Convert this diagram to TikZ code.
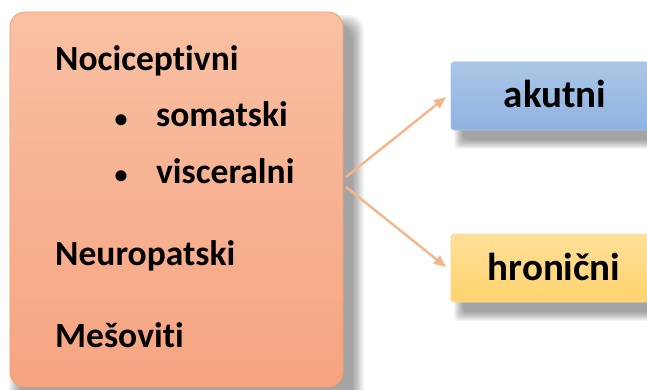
\documentclass[tikz,border=0pt]{standalone}
\usepackage{fontspec}
\setmainfont{Carlito}[Ligatures=NoCommon]
\usetikzlibrary{arrows.meta}
\definecolor{mainTop}{HTML}{F8C0A3}
\definecolor{mainBot}{HTML}{F6A481}
\definecolor{mainEdge}{HTML}{F4A070}
\definecolor{blueTop}{HTML}{ABC6E6}
\definecolor{blueBot}{HTML}{8EB3E2}
\definecolor{yelTop}{HTML}{FFDF99}
\definecolor{yelBot}{HTML}{FFD36E}
\definecolor{arrowCol}{HTML}{F5B58A}
\tikzset{
  lbl/.style={font=\bfseries\fontsize{35.5}{40}\selectfont, anchor=base west, inner sep=0pt},
  bul/.style={font=\bfseries\fontsize{26}{30}\selectfont, anchor=base, inner sep=0pt},
  boxlbl/.style={font=\bfseries\fontsize{39}{44}\selectfont, inner sep=0pt, anchor=base},
  conn/.style={draw=arrowCol, line width=2.4pt, -{Triangle[length=12pt,width=10pt]}},
}
\begin{document}
\begin{tikzpicture}[x=1pt,y=-1pt]
\useasboundingbox (0,0) rectangle (647,390);
\begin{scope}
\clip (0,0) rectangle (647,390);
% shadows
\foreach \i in {0,...,9}{
  \fill[black, opacity=0.045, rounded corners=15] (10+10-\i*1.2, 12+14-\i*1.2) rectangle (343+10+\i*1.2, 387+12+\i*1.2);
  \fill[black, opacity=0.045, rounded corners=4] (451+12-\i*1.0, 62+10-\i*1.0) rectangle (660+10+\i*1.0, 130+10+\i*1.0);
  \fill[black, opacity=0.045, rounded corners=4] (451+12-\i*1.0, 234+10-\i*1.0) rectangle (660+10+\i*1.0, 302+10+\i*1.0);
}
% main box
\shade[top color=mainTop, bottom color=mainBot, rounded corners=15] (10,12) rectangle (343,387);
\draw[mainEdge, line width=0.8pt, rounded corners=15] (10,12) rectangle (343,387);
\node (main) [minimum width=333pt, minimum height=375pt, inner sep=0pt] at (176.5,199.5) {};
% small boxes
\shade[top color=blueTop, bottom color=blueBot, rounded corners=3] (451,62) rectangle (660,130);
\draw[blueBot!80!white, line width=0.6pt, rounded corners=3] (451,62) rectangle (660,130);
\shade[top color=yelTop, bottom color=yelBot, rounded corners=3] (451,234) rectangle (660,302);
\draw[yelBot!85!white, line width=0.6pt, rounded corners=3] (451,234) rectangle (660,302);
\end{scope}
\node (ak) [boxlbl] at (555,108) {akutni};
\node (hr) [boxlbl] at (554,280) {hronični};
\coordinate (akin) at (446,97);
\coordinate (hrin) at (446,267);
\coordinate (o1) at (346,177);
\coordinate (o2) at (346,187);
% texts
\node (n1) [lbl] at (55,71) {Nociceptivni};
\node (b1) [bul] at (121,127.5) {•};
\node (s1) [lbl] at (156,127) {somatski};
\node (b2) [bul] at (121,183.5) {•};
\node (s2) [lbl] at (156,183) {visceralni};
\node (n2) [lbl] at (55,265) {Neuropatski};
\node (n3) [lbl] at (55,347) {Mešoviti};
% connectors
\draw[conn] (o1) -- (akin);
\draw[conn] (o2) -- (hrin);
\end{tikzpicture}
\end{document}
